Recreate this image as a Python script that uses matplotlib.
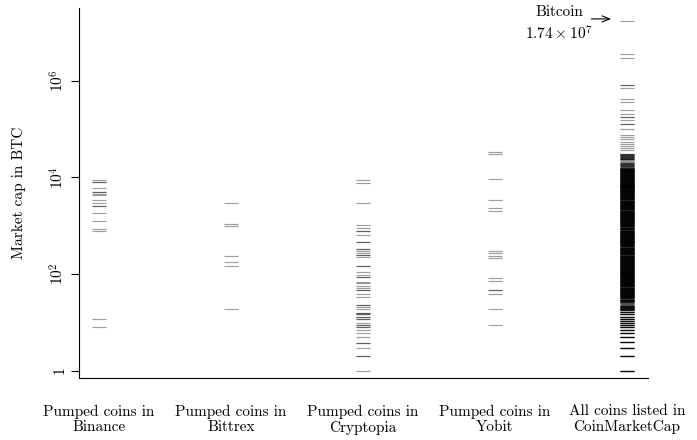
import numpy as np
import matplotlib
matplotlib.use("Agg")
import matplotlib.pyplot as plt
from matplotlib.ticker import NullLocator, FixedLocator

plt.rcParams['font.family'] = ['cmr10', 'DejaVu Serif']
plt.rcParams['mathtext.fontset'] = 'cm'
plt.rcParams['axes.formatter.use_mathtext'] = True

categories = ["Pumped coins in\nBinance", "Pumped coins in\nBittrex",
              "Pumped coins in\nCryptopia", "Pumped coins in\nYobit",
              "All coins listed in\nCoinMarketCap"]

binance = [8900, 8000, 8000, 5900, 4900, 4900, 4570, 4300, 3460, 2890, 2570, 2570,
           1850, 1230, 835, 775, 11.5, 7.8]

bittrex = [2900, 1070, 980, 235, 174, 145, 18.5]

cryptopia = [8670, 7520, 2900, 1015, 879, 784, 784, 630, 464, 464, 323, 323, 298, 271,
             243, 243, 221, 144, 144, 108, 93.5, 85, 85, 69, 64, 55, 50, 46, 46, 38, 34,
             22.7, 22.7, 21.1, 18.5, 15.7, 15.7, 14.8, 14.8, 13.0, 13.0, 11.6, 11.6,
             9.5, 8.6, 8.6, 7.8, 7.8, 6.8, 5.9, 4.9, 3.8, 3.8, 2.9, 1.97, 1.97, 1.0]

yobit = [33000, 30300, 9100, 3340, 2280, 2005, 298, 271, 235, 213, 82, 71, 46, 46,
         38, 18.5, 8.6]

# CoinMarketCap: sparse upper tail
cmc_top = [1.74e7, 3.57e6, 2.9e6, 8.3e5, 8.3e5, 6.9e5, 4.1e5, 3.6e5, 2.5e5, 2.0e5,
           1.8e5, 1.8e5, 1.55e5, 1.25e5, 1.25e5, 9.8e4, 7.4e4, 6.7e4, 6.1e4, 5.5e4,
           5.0e4, 4.5e4, 4.1e4, 3.7e4]
# CoinMarketCap: dense body (value, number of coins at that level)
cmc_body_values = [30900, 29500, 28200, 26900, 25700, 24500, 23400, 22400, 21400, 20400,
                   19500, 18600, 17800, 17000, 16200, 15500, 14800, 14100, 13500, 12900,
                   12300, 11700, 11200, 10700, 10200, 9770, 9330, 8910, 8510, 8130,
                   7760, 7410, 7080, 6760, 6460, 6170, 5890, 5620, 5370, 5130,
                   4900, 4680, 4470, 4270, 4070, 3890, 3720, 3550, 3390, 3240,
                   3090, 2950, 2820, 2690, 2570, 2450, 2340, 2240, 2140, 2040,
                   1950, 1860, 1780, 1700, 1620, 1550, 1480, 1410, 1350, 1290,
                   1230, 1170, 1120, 1070, 1020, 977, 933, 891, 851, 813,
                   776, 741, 708, 676, 646, 617, 589, 562, 537, 513,
                   490, 468, 447, 427, 407, 389, 372, 355, 339, 324,
                   309, 295, 282, 269, 257, 245, 234, 224, 214, 204,
                   195, 186, 178, 170, 162, 155, 148, 141, 135, 129,
                   123, 117, 112, 107, 102, 97.7, 93.3, 89.1, 85.1, 81.3,
                   77.6, 74.1, 70.8, 67.6, 64.6, 61.7, 58.9, 56.2, 53.7, 51.3,
                   49.0, 46.8, 44.7, 42.7, 40.7, 38.9, 37.2, 35.5, 33.9, 32.4,
                   30.9, 29.5, 28.2, 26.9, 25.7, 24.5, 23.4, 22.4, 21.4, 20.4,
                   19.5, 18.6, 17.8]
cmc_body_counts = [3, 3, 3, 3, 3, 3, 1, 1, 1, 1,
                   3, 3, 3, 3, 2, 4, 6, 6, 6, 6,
                   6, 6, 6, 6, 6, 6, 6, 6, 6, 6,
                   6, 6, 6, 6, 6, 6, 6, 6, 6, 6,
                   6, 6, 6, 6, 6, 6, 6, 6, 3, 6,
                   6, 6, 6, 6, 6, 6, 6, 6, 3, 6,
                   6, 6, 6, 3, 6, 6, 6, 6, 6, 6,
                   6, 6, 6, 6, 6, 6, 3, 6, 6, 3,
                   6, 6, 6, 6, 6, 6, 6, 6, 6, 6,
                   6, 6, 6, 6, 6, 6, 6, 3, 6, 6,
                   6, 6, 6, 6, 6, 3, 6, 6, 6, 6,
                   6, 6, 6, 6, 6, 6, 6, 6, 6, 6,
                   6, 6, 3, 6, 6, 6, 6, 6, 6, 6,
                   6, 6, 6, 6, 6, 6, 6, 6, 3, 6,
                   6, 6, 6, 6, 6, 6, 6, 6, 6, 5,
                   2, 4, 5, 5, 4, 2, 2, 2, 5, 5,
                   5, 5, 5]
# CoinMarketCap: lower tail
cmc_low = [16.3, 15.0, 13.0, 11.6, 10.6, 9.6, 8.7, 8.0, 6.8, 5.9, 4.9, 3.9, 2.9, 1.97, 1.0]
cmc_low_counts = [6, 6, 6, 6, 6, 6, 6, 6, 6, 6, 6, 6, 6, 6, 6]

cmc = (list(cmc_top) + list(np.repeat(cmc_body_values, cmc_body_counts))
       + list(np.repeat(cmc_low, cmc_low_counts)))

groups = [binance, bittrex, cryptopia, yobit, cmc]

W, H = 697, 440
fig = plt.figure(figsize=(W / 100, H / 100), dpi=100)
ax = fig.add_axes([79 / W, (H - 378) / H, (648 - 79) / W, (378 - 8) / H])

hw = 0.055
for i, vals in enumerate(groups, start=1):
    vals = np.asarray(vals, dtype=float)
    ax.hlines(vals, i - hw, i + hw, colors=[(0, 0, 0, 0.38)], linewidth=0.85)

ax.set_yscale('log')
ax.set_ylim(10 ** -0.155, 10 ** 7.505)
ax.set_xlim(0.848, 5.159)

ax.spines['top'].set_visible(False)
ax.spines['right'].set_visible(False)
for s in ('left', 'bottom'):
    ax.spines[s].set_linewidth(0.8)

ax.yaxis.set_major_locator(FixedLocator([1, 1e2, 1e4, 1e6]))
ax.yaxis.set_minor_locator(NullLocator())
ax.set_yticklabels(['1', '$10^{2}$', '$10^{4}$', '$10^{6}$'],
                   rotation=90, va='center', fontsize=11)
ax.tick_params(axis='y', length=6, width=0.8, pad=3)

ax.set_xticks(range(1, 6))
ax.set_xticklabels(categories, fontsize=11, linespacing=1.2)
ax.tick_params(axis='x', length=0, pad=19)

ax.set_ylabel('Market cap in BTC', fontsize=11, labelpad=16)

ax.annotate('', xy=(4.88, 1.9e7), xytext=(4.73, 1.9e7),
            arrowprops=dict(arrowstyle='->, head_length=0.55, head_width=0.22',
                            lw=0.8, color='black', shrinkA=0, shrinkB=0))
ax.text(4.49, 10 ** 7.41, 'Bitcoin', ha='center', va='center', fontsize=11)
ax.text(4.48, 10 ** 6.98, r'$1.74\times10^{7}$', ha='center', va='center', fontsize=11)

fig.savefig('out.png', dpi=100)
